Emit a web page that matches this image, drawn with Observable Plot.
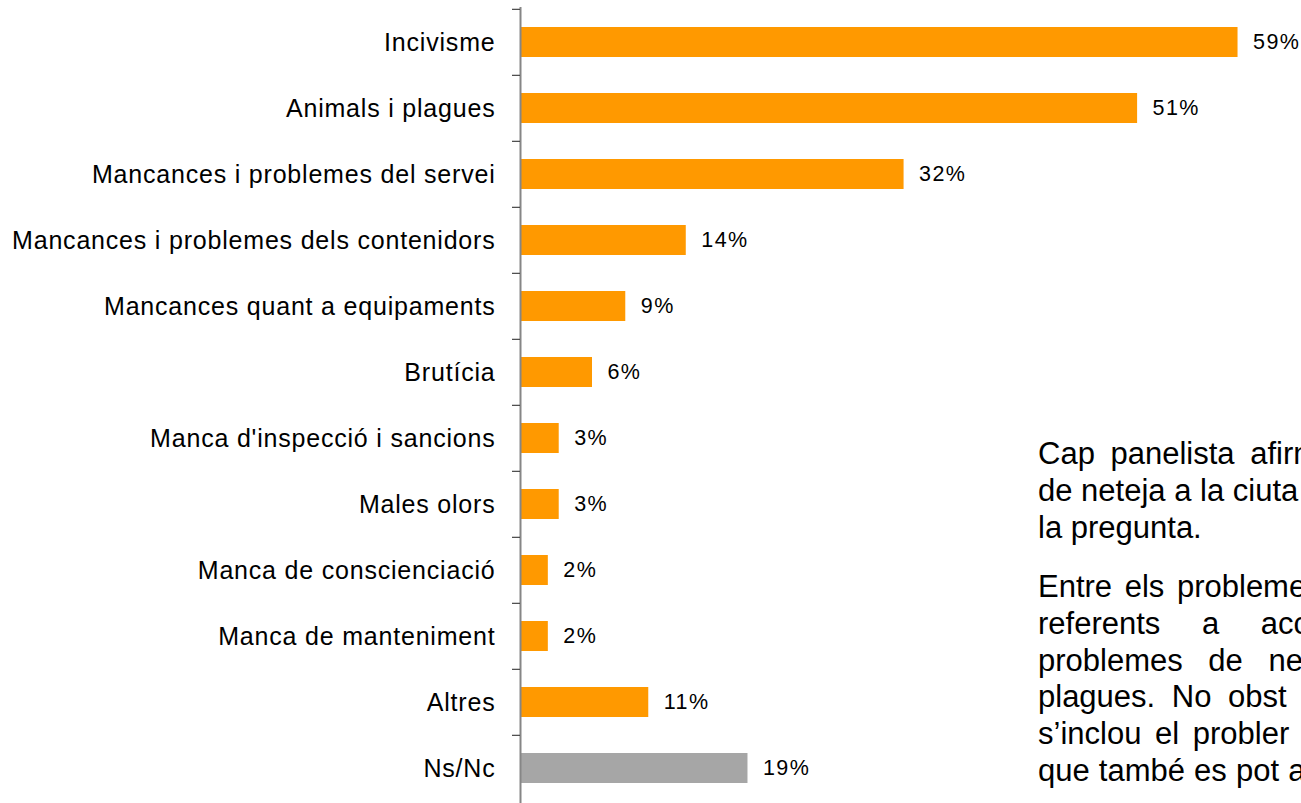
<!DOCTYPE html>
<html>
<head>
<meta charset="utf-8">
<script src="https://cdn.jsdelivr.net/npm/d3@7"></script>
<script src="https://cdn.jsdelivr.net/npm/@observablehq/plot@0.6"></script>
<style>
html, body { margin: 0; padding: 0; overflow: hidden; background: #fff; }
#wrap { position: relative; width: 1301px; height: 803px; overflow: hidden; background: #fff; }
#chart { position: absolute; left: 0; top: 0; }
.para { position: absolute; left: 1038px; font-family: "Liberation Sans", Arial, sans-serif; font-size: 31px; color: #000; white-space: nowrap; }
.ln { height: 36.8px; line-height: 36.8px; }
</style>
</head>
<body>
<div id="wrap"><div id="chart"></div></div>
<script>
const categories = [
  "Incivisme",
  "Animals i plagues",
  "Mancances i problemes del servei",
  "Mancances i problemes dels contenidors",
  "Mancances quant a equipaments",
  "Brutícia",
  "Manca d'inspecció i sancions",
  "Males olors",
  "Manca de conscienciació",
  "Manca de manteniment",
  "Altres",
  "Ns/Nc"
];
const values = [59.3, 51.0, 31.7, 13.7, 8.7, 5.95, 3.2, 3.2, 2.3, 2.3, 10.6, 18.8];
const valueLabels = ["59%", "51%", "32%", "14%", "9%", "6%", "3%", "3%", "2%", "2%", "11%", "19%"];
const grayCategory = "Ns/Nc";

const noteParagraph1 = ["Cap panelista afirm", "de neteja a la ciuta", "la pregunta."];
const noteParagraph2 = ["Entre els probleme", "referents a acc", "problemes de ne", "plagues. No obst", "s’inclou el probler", "que també es pot a"];

const W = 1301, H = 803;
const mTop = 7, mBottom = 0, mLeft = 520, mRight = 0;
const step = (H - mTop - mBottom) / categories.length;
const pxPerUnit = 12.1;

const data = categories.map((c, i) => ({category: c, value: values[i], label: valueLabels[i]}));

const chart = Plot.plot({
  width: W,
  height: H,
  marginLeft: mLeft,
  marginRight: mRight,
  marginTop: mTop,
  marginBottom: mBottom,
  style: {fontFamily: '"Liberation Sans", Arial, sans-serif', fontSize: "25px", background: "#fff", color: "#000", overflow: "visible"},
  x: {domain: [0, (W - mLeft - mRight) / pxPerUnit], axis: null},
  y: {domain: categories, paddingInner: 0.55, paddingOuter: 0.275, align: 0.5, label: null},
  marks: [
    Plot.barX(data, {x: "value", y: "category", fill: d => d.category === grayCategory ? "#a6a6a6" : "#ff9900"}),
    Plot.ruleX([0], {stroke: "#868686", strokeWidth: 2}),
    Plot.axisY({tickSize: 0, tickPadding: 25, fontSize: 25, fill: "#000"}),
    Plot.axisY({tickSize: 8, fill: "none", stroke: "#444", strokeWidth: 1.2, dy: -step / 2}),
    Plot.text(data, {x: "value", y: "category", text: "label", textAnchor: "start", dx: 15, fontSize: 21.5, fill: "#000"})
  ]
});
document.getElementById("chart").appendChild(chart);

const svg = d3.select(chart);
svg.selectAll('g[aria-label="y-axis tick label"] text').style("letter-spacing", "0.8px");
svg.selectAll('g[aria-label="text"] text').style("letter-spacing", "1.4px");

// annotation text (clipped at the right edge as in the reference)
const wrap = document.getElementById("wrap");
function addPara(lines, top, spacings) {
  const p = document.createElement("div");
  p.className = "para";
  p.style.top = top + "px";
  lines.forEach((t, i) => {
    const d = document.createElement("div");
    d.className = "ln";
    d.style.wordSpacing = spacings[i] + "px";
    d.textContent = t;
    p.appendChild(d);
  });
  wrap.appendChild(p);
}
addPara(noteParagraph1, 436, [7, 0, 0]);
addPara(noteParagraph2, 569, [4, 33, 17, 8, 5, 0.5]);
</script>
</body>
</html>
